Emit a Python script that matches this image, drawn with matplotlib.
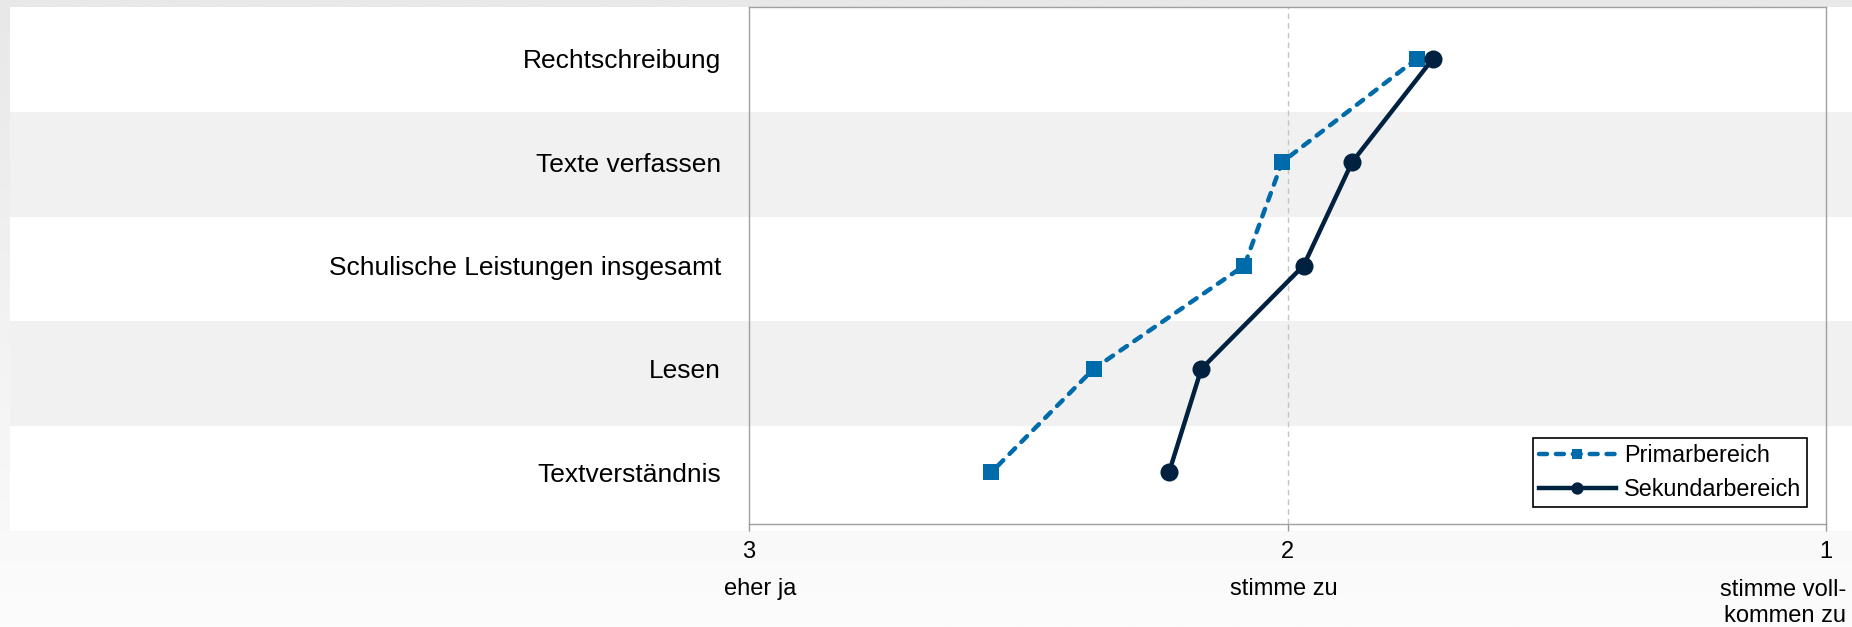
import numpy as np
import matplotlib
matplotlib.use("Agg")
import matplotlib.pyplot as plt

plt.rcParams['font.family'] = ['Liberation Sans', 'DejaVu Sans']

# data
categories = ["Rechtschreibung", "Texte verfassen", "Schulische Leistungen insgesamt",
              "Lesen", "Textverständnis"]
primar = [1.76, 2.01, 2.08, 2.36, 2.55]
sekundar = [1.73, 1.88, 1.97, 2.16, 2.22]
x_ticks = [3, 2, 1]
x_desc = ["eher ja", "stimme zu", "stimme voll-\nkommen zu"]
series_names = ["Primarbereich", "Sekundarbereich"]

blue = "#006bab"
navy = "#002240"

W, H = 1852, 627
fig = plt.figure(figsize=(W/100, H/100), dpi=100)

#background with soft vertical gradient and alternating bands
bg = fig.add_axes([0, 0, 1, 1], zorder=0)
bg.set_xlim(0, W)
bg.set_ylim(H, 0)
bg.axis("off")
grad = np.linspace(0, 1, 200).reshape(-1, 1)
top_c = np.array([0xe8, 0xe8, 0xe8]) / 255
bot_c = np.array([0xfc, 0xfc, 0xfc]) / 255
img = top_c + (bot_c - top_c) * grad[..., None]
bg.imshow(img, extent=(0, W, H, 0), aspect="auto", interpolation="bilinear")
band_h = 104.8
for i in range(len(categories)):
    col = "#ffffff" if i % 2 == 0 else "#f1f1f1"
    bg.axhspan(7 + i*band_h, 7 + (i+1)*band_h, xmin=10/W, xmax=1, color=col, lw=0)

#main chart
ax = fig.add_axes([749/W, 1 - 524/H, (1826-749)/W, (524-7)/H], zorder=1)
ax.set_facecolor("none")
ypos = np.arange(len(categories))

ax.axvline(2, color="#c4c4c4", lw=1, ls=(0, (4, 3)), zorder=1)

l1, = ax.plot(primar, ypos, color=blue, lw=3.2, marker="s", markersize=11.2,
              mew=0, dash_capstyle="round", zorder=3, label=series_names[0])
l1.set_dashes((1.8, 2.0))
ax.plot(sekundar, ypos, color=navy, lw=3.2, marker="o", markersize=13,
        mew=0, zorder=4, label=series_names[1])

ax.set_xlim(3, 1)
ax.set_ylim(len(categories) - 0.5, -0.5)
ax.set_xticks(x_ticks)
ax.set_xticklabels([str(t) for t in x_ticks], fontsize=17)
ax.set_yticks(ypos)
ax.set_yticklabels(categories, fontsize=19)
ax.tick_params(axis="y", length=0, pad=20)
ax.tick_params(axis="x", length=5, width=1, color="#999999", pad=7)
for s in ax.spines.values():
    s.set_color("#a0a0a0")
    s.set_linewidth(1)

#descriptions under the tick numbers
fig.text(760/W, 1 - 595/H, x_desc[0], ha="center", va="baseline", fontsize=17)
fig.text(1284/W, 1 - 595/H, x_desc[1], ha="center", va="baseline", fontsize=17)
d3 = x_desc[2].split("\n")
fig.text(1846/W, 1 - 596/H, d3[0], ha="right", va="baseline", fontsize=17)
fig.text(1846/W, 1 - 622/H, d3[1], ha="right", va="baseline", fontsize=17)

leg = ax.legend(loc="lower right", bbox_to_anchor=(1 - 19/1077, 17/517),
                borderaxespad=0, fontsize=16.8, frameon=True, fancybox=False,
                handlelength=3.3, handletextpad=0.35, borderpad=0.25,
                labelspacing=0.48, markerscale=0.68)
leg.get_frame().set_edgecolor("black")
leg.get_frame().set_linewidth(1.2)
leg.get_frame().set_facecolor("white")
leg.get_frame().set_alpha(1)

fig.savefig("out.png", dpi=100)
